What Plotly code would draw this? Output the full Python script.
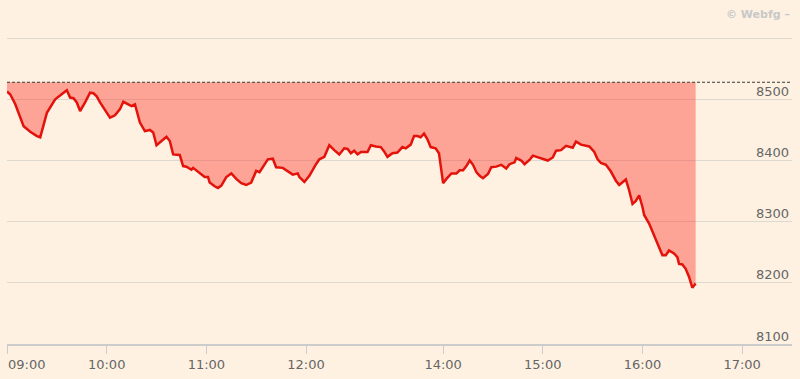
import plotly.graph_objects as go

DAY = "2020-01-02 "

times = [
    "09:00", "09:02", "09:05", "09:10", "09:14", "09:18", "09:20", "09:22", "09:24", "09:29",
    "09:33", "09:36", "09:38", "09:40", "09:42", "09:44", "09:47", "09:50", "09:52", "09:54",
    "09:56", "09:58", "10:02", "10:05", "10:08", "10:10", "10:13", "10:15", "10:17", "10:18",
    "10:20", "10:23", "10:26", "10:28", "10:30", "10:33", "10:36", "10:38", "10:40", "10:44",
    "10:46", "10:48", "10:51", "10:52", "10:55", "10:57", "10:59", "11:01", "11:02", "11:05",
    "11:07", "11:09", "11:12", "11:15", "11:18", "11:21", "11:24", "11:27", "11:30", "11:32",
    "11:34", "11:37", "11:40", "11:42", "11:46", "11:49", "11:52", "11:55", "11:56", "11:59",
    "12:02", "12:06", "12:08", "12:11", "12:13", "12:14", "12:17", "12:20", "12:23", "12:25",
    "12:27", "12:29", "12:31", "12:33", "12:37", "12:39", "12:42", "12:45", "12:47", "12:49",
    "12:52", "12:55", "12:58", "13:00", "13:03", "13:05", "13:07", "13:09", "13:11", "13:13",
    "13:15", "13:18", "13:20",
    "14:00", "14:02", "14:05", "14:08", "14:10", "14:12", "14:14", "14:16", "14:18", "14:20",
    "14:22", "14:24", "14:27", "14:29", "14:32", "14:35", "14:38", "14:40", "14:43", "14:44",
    "14:47", "14:49", "14:52", "14:54", "14:57", "15:00", "15:03", "15:06", "15:08", "15:11",
    "15:14", "15:18", "15:20", "15:23", "15:26", "15:28", "15:31", "15:33", "15:35", "15:38",
    "15:41", "15:44", "15:46", "15:48", "15:50", "15:52", "15:54", "15:56", "15:58", "16:00",
    "16:01", "16:04", "16:07", "16:10", "16:12", "16:14", "16:16", "16:19", "16:21", "16:22",
    "16:24", "16:26", "16:28", "16:30", "16:32",
]

prices = [
    8513, 8508, 8492, 8456, 8447, 8440, 8438, 8459, 8478, 8500,
    8508, 8515, 8503, 8502, 8495, 8481, 8495, 8511, 8510, 8505,
    8495, 8486, 8470, 8474, 8484, 8496, 8492, 8489, 8492, 8481,
    8462, 8448, 8450, 8446, 8425, 8432, 8439, 8432, 8410, 8409,
    8391, 8390, 8385, 8388, 8382, 8378, 8373, 8373, 8364, 8358,
    8355, 8359, 8373, 8379, 8370, 8363, 8360, 8364, 8383, 8381,
    8389, 8402, 8403, 8389, 8388, 8383, 8377, 8379, 8373, 8365,
    8375, 8394, 8402, 8406, 8421, 8425, 8417, 8410, 8420, 8419,
    8412, 8416, 8410, 8414, 8414, 8425, 8423, 8422, 8415, 8406,
    8412, 8413, 8422, 8420, 8426, 8440, 8440, 8438, 8444, 8435,
    8422, 8420, 8412,
    8363, 8370, 8379, 8379, 8384, 8384, 8391, 8400, 8393, 8381,
    8375, 8371, 8378, 8389, 8390, 8393, 8387, 8394, 8397, 8404,
    8400, 8394, 8401, 8408, 8405, 8403, 8400, 8405, 8416, 8417,
    8424, 8421, 8431, 8426, 8424, 8423, 8414, 8402, 8396, 8393,
    8382, 8367, 8360, 8364, 8369, 8351, 8329, 8334, 8343, 8324,
    8311, 8297, 8277, 8260, 8245, 8245, 8253, 8248, 8242, 8231,
    8230, 8223, 8210, 8192, 8199,
]

prev_close = 8528

y_ticks = [8100, 8200, 8300, 8400, 8500, 8600]
y_tick_labels = ["8100", "8200", "8300", "8400", "8500", ""]
x_ticks = ["10:00", "11:00", "12:00", "14:00", "15:00", "16:00", "17:00"]
first_tick = "09:00"
x_start, x_end = "09:00", "17:30"
break_start, break_end = "13:22:30", "14:00"

BG = "#FEF1E1"
FONT = "DejaVu Sans"
TXT = "#666666"

xs = [DAY + t for t in times]

fig = go.Figure()
fig.add_trace(go.Scatter(
    x=xs, y=[prev_close] * len(xs), mode="lines",
    line=dict(width=0, color="rgba(0,0,0,0)"), hoverinfo="skip", showlegend=False,
))
fig.add_trace(go.Scatter(
    x=xs, y=prices, mode="lines", fill="tonexty",
    fillcolor="rgba(255,40,30,0.38)",
    line=dict(color="#E3120B", width=2.5), showlegend=False,
))

fig.add_shape(type="line", xref="paper", yref="y", x0=0, x1=1,
              y0=prev_close, y1=prev_close,
              line=dict(color="#3a3a3a", width=1, dash="3px,2px"))

fig.add_annotation(x=DAY + first_tick, y=0, xref="x", yref="paper",
                   text=first_tick, showarrow=False, xanchor="left", yanchor="middle",
                   yshift=-20, xshift=-1, font=dict(family=FONT, size=13, color=TXT))

fig.add_annotation(x=1, y=1, xref="paper", yref="paper", yanchor="middle", xanchor="right",
                   text="<b>© Webfg –</b>", showarrow=False, yshift=23,
                   font=dict(family=FONT, size=11, color="#C8C8C8"))

fig.update_layout(
    width=800, height=379,
    margin=dict(l=7, r=8, t=37, b=33),
    paper_bgcolor=BG, plot_bgcolor=BG,
    showlegend=False,
    font=dict(family=FONT, size=13, color=TXT),
    xaxis=dict(
        type="date",
        range=[DAY + x_start, DAY + x_end],
        rangebreaks=[dict(bounds=[DAY + break_start, DAY + break_end])],
        tickmode="array",
        tickvals=[DAY + first_tick] + [DAY + t for t in x_ticks],
        ticktext=[""] + x_ticks,
        showgrid=False, zeroline=False,
        showline=True, linecolor="#CCCCCC", linewidth=1.5,
        ticks="outside", ticklen=8, tickcolor="#CCCCCC", tickwidth=1,
        tickfont=dict(family=FONT, size=13, color=TXT),
    ),
    yaxis=dict(
        range=[8100, 8602], side="right",
        tickmode="array", tickvals=y_ticks, ticktext=y_tick_labels,
        ticklabelposition="inside", ticklabelshift=-8,
        showgrid=True, gridcolor="#DDD8D0", gridwidth=1,
        zeroline=False, showline=False, ticks="",
        tickfont=dict(family=FONT, size=13, color=TXT),
    ),
)

fig.write_html("out.html")
